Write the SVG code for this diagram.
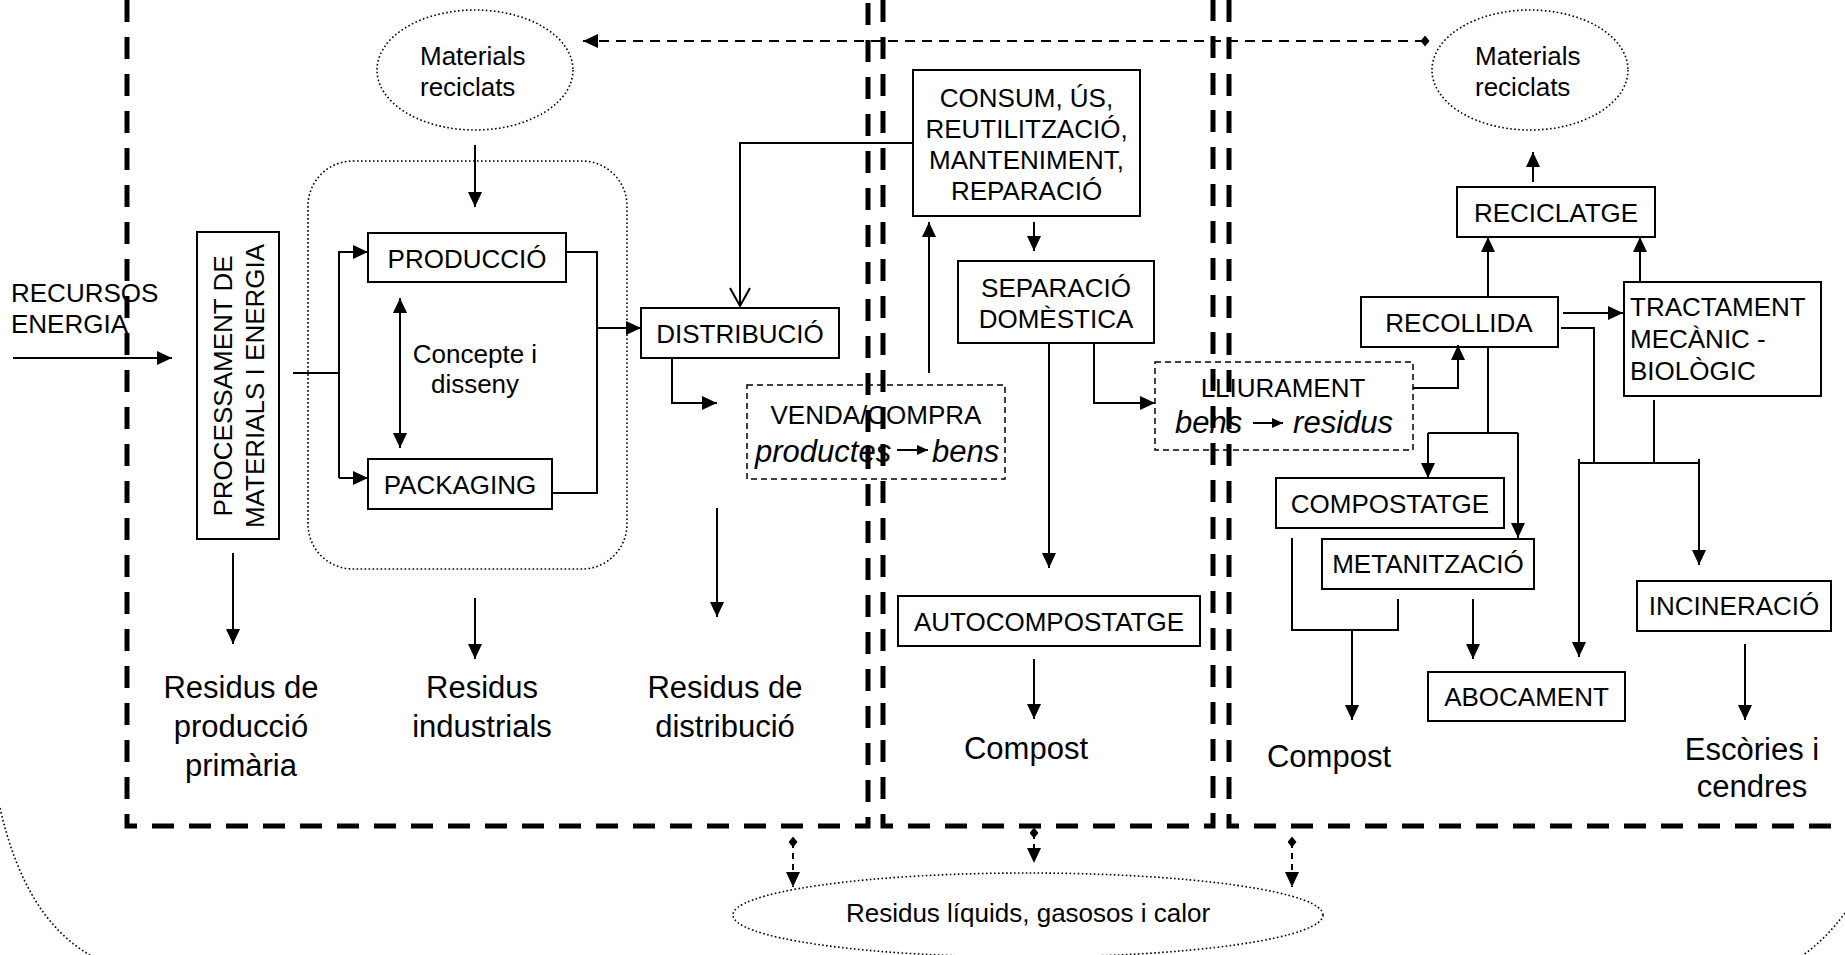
<svg xmlns="http://www.w3.org/2000/svg" width="1845" height="955" viewBox="0 0 1845 955">
<style>
text{font-family:"Liberation Sans",Arial,Helvetica,sans-serif;font-size:26px;fill:#000}
.m{text-anchor:middle}
.b{font-size:31px}
.i{font-size:31px;font-style:italic}
.box{fill:none;stroke:#000;stroke-width:2}
.dbox{fill:none;stroke:#000;stroke-width:1.5;stroke-dasharray:6 4}
.dot{fill:none;stroke:#000;stroke-width:1.6;stroke-dasharray:1.6 2.4}
.c{fill:none;stroke:#000;stroke-width:2}
.dc{fill:none;stroke:#000;stroke-width:2;stroke-dasharray:10 7}
.dc2{fill:none;stroke:#000;stroke-width:2;stroke-dasharray:6 5}
.reg{fill:none;stroke:#000;stroke-width:5;stroke-dasharray:22 15}
</style>
<defs>
<marker id="ah" markerUnits="userSpaceOnUse" markerWidth="16" markerHeight="16" refX="15" refY="7" orient="auto-start-reverse"><path d="M0,0 L15,7 L0,14 z" fill="#000"/></marker>
<marker id="sa" markerUnits="userSpaceOnUse" markerWidth="12" markerHeight="12" refX="11" refY="5" orient="auto"><path d="M0,0 L11,5 L0,10 z" fill="#000"/></marker>
<marker id="oa" markerUnits="userSpaceOnUse" markerWidth="22" markerHeight="24" refX="18" refY="11" orient="auto" overflow="visible"><path d="M0,1 L18,11 L0,21" fill="none" stroke="#000" stroke-width="2"/></marker>
<marker id="dm" markerUnits="userSpaceOnUse" markerWidth="10" markerHeight="12" refX="4.5" refY="5.5"><path d="M4.5,0 L9,5.5 L4.5,11 L0,5.5 z" fill="#000"/></marker>
</defs>

<g id="regions">
<path class="reg" d="M127,0 V826 H868 V0"/>
<path class="reg" d="M883,0 V826 H1213 V0"/>
<path class="reg" d="M1229,0 V826 H1845"/>
</g>

<g id="outer-ellipse">
<path class="dot" d="M0,808 Q25,918 90,955"/>
<path class="dot" d="M1845,913 Q1825,940 1803,955"/>
</g>

<g id="connectors">
<path class="c" d="M13,358 H172" marker-end="url(#ah)"/>
<path class="c" d="M293,373 H339"/>
<path class="c" d="M339,478 V252 H368" marker-end="url(#ah)"/>
<path class="c" d="M339,478 H368" marker-end="url(#ah)"/>
<path class="c" d="M475,145 V207" marker-end="url(#ah)"/>
<path class="c" d="M400,298 V448" marker-start="url(#ah)" marker-end="url(#ah)"/>
<path class="c" d="M566,252 H597 V493 H552"/>
<path class="c" d="M597,328 H641" marker-end="url(#ah)"/>
<path class="c" d="M913,143 H740 V306" marker-end="url(#oa)"/>
<path class="c" d="M672,358 V403 H717" marker-end="url(#ah)"/>
<path class="c" d="M717,508 V617" marker-end="url(#ah)"/>
<path class="c" d="M233,553 V644" marker-end="url(#ah)"/>
<path class="c" d="M475,598 V659" marker-end="url(#ah)"/>
<path class="c" d="M929,373 V222" marker-end="url(#ah)"/>
<path class="c" d="M1034,222 V251" marker-end="url(#ah)"/>
<path class="c" d="M1049,343 V568" marker-end="url(#ah)"/>
<path class="c" d="M1094,343 V403 H1155" marker-end="url(#ah)"/>
<path class="c" d="M1034,659 V719" marker-end="url(#ah)"/>
<path class="c" d="M1413,388 H1458 V345" marker-end="url(#ah)"/>
<path class="c" d="M1488,297 V237" marker-end="url(#ah)"/>
<path class="c" d="M1640,282 V237" marker-end="url(#ah)"/>
<path class="c" d="M1533,182 V152" marker-end="url(#ah)"/>
<path class="c" d="M1563,313 H1623" marker-end="url(#ah)"/>
<path class="c" d="M1561,328 H1594 V463"/>
<path class="c" d="M1654,400 V463"/>
<path class="c" d="M1579,463 H1699"/>
<path class="c" d="M1579,459 V657" marker-end="url(#ah)"/>
<path class="c" d="M1699,459 V565" marker-end="url(#ah)"/>
<path class="c" d="M1488,347 V433"/>
<path class="c" d="M1428,433 H1518"/>
<path class="c" d="M1428,433 V478" marker-end="url(#ah)"/>
<path class="c" d="M1518,433 V538" marker-end="url(#ah)"/>
<path class="c" d="M1292,538 V630 H1398 V599"/>
<path class="c" d="M1352,630 V720" marker-end="url(#ah)"/>
<path class="c" d="M1473,599 V659" marker-end="url(#ah)"/>
<path class="c" d="M1745,644 V720" marker-end="url(#ah)"/>
<path class="c" d="M897,450 H928" marker-end="url(#sa)"/>
<path class="c" d="M1253,423 H1283" marker-end="url(#sa)"/>
<path class="dc" d="M1425,41 H583" marker-start="url(#dm)" marker-end="url(#ah)"/>
<path class="dc2" d="M793,842 V887" marker-start="url(#dm)" marker-end="url(#ah)"/>
<path class="dc2" d="M1034,833 V863" marker-start="url(#dm)" marker-end="url(#ah)"/>
<path class="dc2" d="M1292,842 V887" marker-start="url(#dm)" marker-end="url(#ah)"/>
</g>

<g id="recursos">
<text x="11" y="302">RECURSOS</text>
<text x="11" y="333">ENERGIA</text>
</g>

<g id="materials-left">
<ellipse class="dot" cx="475" cy="70" rx="98" ry="60"/>
<text x="420" y="65">Materials</text>
<text x="420" y="96">reciclats</text>
</g>

<g id="materials-right">
<ellipse class="dot" cx="1530" cy="70" rx="98" ry="60"/>
<text x="1475" y="65">Materials</text>
<text x="1475" y="96">reciclats</text>
</g>

<g id="processament">
<rect class="box" x="197" y="232" width="82" height="307"/>
<text class="m" transform="translate(232,386) rotate(-90)">PROCESSAMENT DE</text>
<text class="m" transform="translate(264,386) rotate(-90)">MATERIALS I ENERGIA</text>
</g>

<g id="disseny">
<rect class="dot" x="308" y="161" width="319" height="408" rx="45" ry="45"/>
<text class="m" x="475" y="363">Concepte i</text>
<text class="m" x="475" y="393">disseny</text>
</g>

<g id="produccio">
<rect class="box" x="368" y="233" width="198" height="49"/>
<text class="m" x="467" y="268">PRODUCCIÓ</text>
</g>

<g id="packaging">
<rect class="box" x="368" y="459" width="184" height="50"/>
<text class="m" x="460" y="494">PACKAGING</text>
</g>

<g id="distribucio">
<rect class="box" x="641" y="308" width="198" height="50"/>
<text class="m" x="740" y="343">DISTRIBUCIÓ</text>
</g>

<g id="venda">
<rect class="dbox" x="747" y="385" width="258" height="94"/>
<text class="m" x="876" y="424">VENDA/COMPRA</text>
<text class="i" x="755" y="462">productes</text>
<text class="i" x="932" y="462">bens</text>
</g>

<g id="consum">
<rect class="box" x="913" y="70" width="227" height="146"/>
<text class="m" x="1026.5" y="107">CONSUM, ÚS,</text>
<text class="m" x="1026.5" y="138">REUTILITZACIÓ,</text>
<text class="m" x="1026.5" y="169">MANTENIMENT,</text>
<text class="m" x="1026.5" y="200">REPARACIÓ</text>
</g>

<g id="separacio">
<rect class="box" x="958" y="261" width="196" height="82"/>
<text class="m" x="1056" y="297">SEPARACIÓ</text>
<text class="m" x="1056" y="328">DOMÈSTICA</text>
</g>

<g id="autocompostatge">
<rect class="box" x="898" y="596" width="302" height="50"/>
<text class="m" x="1049" y="631">AUTOCOMPOSTATGE</text>
</g>

<g id="lliurament">
<rect class="dbox" x="1155" y="362" width="258" height="88"/>
<text class="m" x="1283" y="397">LLIURAMENT</text>
<text class="i" x="1175" y="433">bens</text>
<text class="i" x="1393" y="433" text-anchor="end">residus</text>
</g>

<g id="recollida">
<rect class="box" x="1361" y="297" width="197" height="50"/>
<text class="m" x="1459" y="332">RECOLLIDA</text>
</g>

<g id="reciclatge">
<rect class="box" x="1457" y="187" width="198" height="50"/>
<text class="m" x="1556" y="222">RECICLATGE</text>
</g>

<g id="tractament">
<rect class="box" x="1624" y="282" width="197" height="114"/>
<text x="1630" y="316">TRACTAMENT</text>
<text x="1630" y="348">MECÀNIC -</text>
<text x="1630" y="380">BIOLÒGIC</text>
</g>

<g id="compostatge">
<rect class="box" x="1276" y="478" width="228" height="50"/>
<text class="m" x="1390" y="513">COMPOSTATGE</text>
</g>

<g id="metanitzacio">
<rect class="box" x="1322" y="539" width="212" height="50"/>
<text class="m" x="1428" y="573">METANITZACIÓ</text>
</g>

<g id="abocament">
<rect class="box" x="1428" y="672" width="197" height="49"/>
<text class="m" x="1526.5" y="706">ABOCAMENT</text>
</g>

<g id="incineracio">
<rect class="box" x="1637" y="581" width="194" height="50"/>
<text class="m" x="1734" y="615">INCINERACIÓ</text>
</g>

<g id="residus-primaria">
<text class="m b" x="241" y="698">Residus de</text>
<text class="m b" x="241" y="737">producció</text>
<text class="m b" x="241" y="776">primària</text>
</g>

<g id="residus-industrials">
<text class="m b" x="482" y="698">Residus</text>
<text class="m b" x="482" y="737">industrials</text>
</g>

<g id="residus-distribucio">
<text class="m b" x="725" y="698">Residus de</text>
<text class="m b" x="725" y="737">distribució</text>
</g>

<g id="compost-1">
<text class="m b" x="1026" y="759">Compost</text>
</g>

<g id="compost-2">
<text class="m b" x="1329" y="767">Compost</text>
</g>

<g id="escories">
<text class="m b" x="1752" y="760">Escòries i</text>
<text class="m b" x="1752" y="797">cendres</text>
</g>

<g id="residus-liquids">
<ellipse class="dot" cx="1028" cy="915" rx="295" ry="42"/>
<text class="m" x="1028" y="922">Residus líquids, gasosos i calor</text>
</g>
</svg>
